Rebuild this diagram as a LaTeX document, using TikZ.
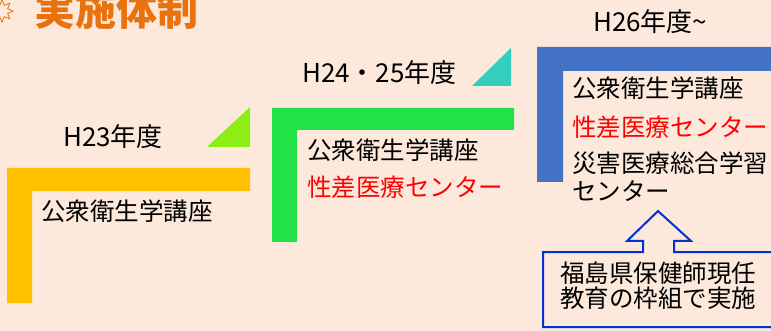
\documentclass[tikz,border=0pt]{standalone}
\usepackage{fontspec}
\setmainfont{Noto Sans CJK JP}
\newfontfamily\cjk{Noto Sans CJK JP}
\usetikzlibrary{shapes.geometric}
\definecolor{bgc}{RGB}{252,233,220}
\definecolor{orL}{RGB}{255,192,0}
\definecolor{grL}{RGB}{34,226,74}
\definecolor{blL}{RGB}{68,114,196}
\definecolor{limeT}{RGB}{140,238,20}
\definecolor{tealT}{RGB}{52,206,192}
\definecolor{ttl}{RGB}{232,114,14}
\definecolor{cbl}{RGB}{0,50,210}
\tikzset{
  body/.style={anchor=west, inner sep=0pt, font=\cjk\fontsize{24.5}{28}\selectfont, text=black},
  redtxt/.style={body, text=red},
  hdr/.style={anchor=west, inner sep=0pt, font=\cjk\fontsize{26}{30}\selectfont, text=black},
}
\begin{document}
\begin{tikzpicture}[x=1pt,y=-1pt]
\fill[bgc] (0,0) rectangle (771,331);
\useasboundingbox (0,0) rectangle (771,331);
% title
\node[star, star points=8, star point ratio=1.8, draw=ttl, line width=0.8pt, minimum size=22pt, inner sep=0pt] (st) at (2,11) {};
\node[anchor=west, inner sep=0pt, font=\cjk\bfseries\fontsize{41}{44}\selectfont, text=ttl] (title) at (34,10) {実施体制};
% orange L
\fill[orL] (7,168) -- (250,168) -- (250,191) -- (32,191) -- (32,303) -- (7,303) -- cycle;
\fill[limeT] (207,147) -- (250,147) -- (250,107) -- cycle;
\node[hdr] (h23) at (63,137) {H23年度};
\node[body] (a1) at (41,211) {公衆衛生学講座};
% green L
\fill[grL] (272,108) -- (514,108) -- (514,130) -- (297,130) -- (297,242) -- (272,242) -- cycle;
\fill[tealT] (472,86) -- (511,86) -- (511,48) -- cycle;
\node[hdr] (h24) at (302,73) {H24・25年度};
\node[body] (b1) at (307,150) {公衆衛生学講座};
\node[redtxt] (b2) at (307,187) {性差医療センター};
% blue L
\fill[blL] (537,47) -- (775,47) -- (775,71) -- (563,71) -- (563,182) -- (537,182) -- cycle;
\node[hdr] (h26) at (593,22) {H26年度\textasciitilde};
\node[body] (c1) at (572,88) {公衆衛生学講座};
\node[redtxt] (c2) at (572,127) {性差医療センター};
\node[body] (c3) at (572,163) {災害医療総合学習};
\node[body] (c4) at (572,191) {センター};
% callout
\filldraw[fill=bgc, draw=cbl, line width=2pt, line join=miter]
  (780,252) -- (674,252) -- (674,241) -- (691,241) -- (658,211) -- (627,241) -- (643,241) -- (643,252) -- (543,252) -- (543,327) -- (780,327);
\node[body] (d1) at (560,273) {福島県保健師現任};
\node[body] (d2) at (560,298) {教育の枠組で実施};
\end{tikzpicture}
\end{document}
